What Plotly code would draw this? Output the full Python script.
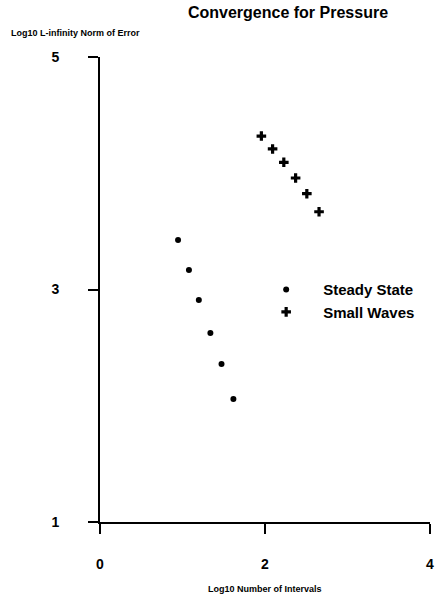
import plotly.graph_objects as go

# Data (log10 values)
steady_x = [0.946, 1.078, 1.198, 1.338, 1.473, 1.617]
steady_y = [3.426, 3.168, 2.910, 2.626, 2.359, 2.058]
waves_x = [1.956, 2.092, 2.228, 2.371, 2.507, 2.655]
waves_y = [4.320, 4.209, 4.094, 3.959, 3.824, 3.669]

x_ticks = [0, 2, 4]
y_ticks = [1, 3, 5]

FONT = "Liberation Sans, Arial, Helvetica, sans-serif"

fig = go.Figure()
fig.add_trace(go.Scatter(
    x=steady_x, y=steady_y, mode="markers", name="Steady State",
    marker=dict(symbol="circle", size=6, color="black"),
))
fig.add_trace(go.Scatter(
    x=waves_x, y=waves_y, mode="markers", name="Small Waves",
    marker=dict(symbol="cross", size=8, color="black"),
))

axis_common = dict(
    showline=True, linewidth=2, linecolor="black",
    ticks="outside", ticklen=10, tickwidth=2, tickcolor="black",
    showgrid=False, zeroline=False, ticklabeloverflow="allow",
    tickfont=dict(family=FONT, size=14, color="black", weight="bold"),
)

fig.update_layout(
    width=435, height=599,
    margin=dict(l=100, r=1, t=57, b=77),
    paper_bgcolor="white", plot_bgcolor="white",
    title=dict(
        text="Convergence for Pressure",
        font=dict(family=FONT, size=16, color="black", weight="bold"),
        x=288 / 435, xanchor="center", y=1 - 12 / 599, yanchor="middle",
    ),
    xaxis=dict(range=[0, 4], tickvals=x_ticks, ticklabelstandoff=18, **axis_common),
    yaxis=dict(range=[1, 5], tickvals=y_ticks, ticklabelstandoff=26, **axis_common),
    legend=dict(
        x=0.452, y=0.476, xanchor="left", yanchor="middle",
        itemwidth=64, bgcolor="rgba(0,0,0,0)",
        font=dict(family=FONT, size=15, color="black", weight="bold"),
    ),
    showlegend=True,
    annotations=[
        dict(
            text="Log10 L-infinity Norm of Error", xref="paper", yref="paper",
            x=-92 / 334, y=1 + 24 / 465, xanchor="left", yanchor="middle",
            showarrow=False,
            font=dict(family=FONT, size=9, color="black", weight="bold"),
        ),
        dict(
            text="Log10 Number of Intervals", xref="paper", yref="paper",
            x=0.5, y=-67 / 465, xanchor="center", yanchor="middle",
            showarrow=False,
            font=dict(family=FONT, size=9, color="black", weight="bold"),
        ),
    ],
)

fig.write_html("out.html")
